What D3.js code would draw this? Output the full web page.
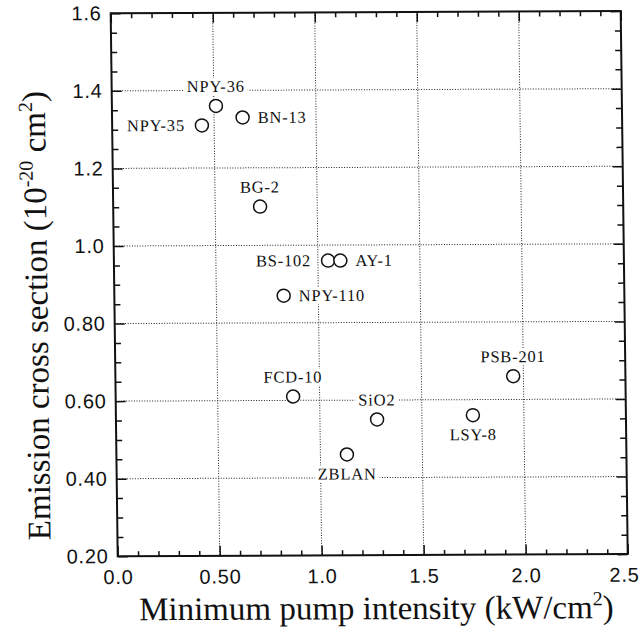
<!doctype html>
<html>
<head>
<meta charset="utf-8"/>
<title>Emission cross section vs minimum pump intensity</title>
<script src="https://d3js.org/d3.v7.min.js"></script>
<style>
 body { margin:0; background:#fff; }
 .tick text { font-family:"Liberation Sans", Arial, sans-serif; font-size:20px; letter-spacing:0.8px; fill:#111; }
 .serif { font-family:"Liberation Serif", "Times New Roman", serif; fill:#111; }
</style>
</head>
<body>
<script>
// values
var glasses = ["NPY-35","NPY-36","BN-13","BG-2","BS-102","AY-1","NPY-110","FCD-10","SiO2","ZBLAN","LSY-8","PSB-201"];
var pumpIntensity = [0.44, 0.51, 0.64, 0.72, 1.05, 1.11, 0.83, 0.87, 1.28, 1.13, 1.75, 1.95];
var crossSection  = [1.31, 1.36, 1.33, 1.10, 0.96, 0.96, 0.87, 0.61, 0.55, 0.46, 0.56, 0.66];
var labelSide = ["left","top","right","top","left","right","right","top","top","bottom","bottom","top"];

var xTicks = [0, 0.5, 1.0, 1.5, 2.0, 2.5];
var xTickLabels = ["0.0","0.50","1.0","1.5","2.0","2.5"];
var yTicks = [0.2, 0.4, 0.6, 0.8, 1.0, 1.2, 1.4, 1.6];
var yTickLabels = ["0.20","0.40","0.60","0.80","1.0","1.2","1.4","1.6"];

var W = 510, H = 543;

var svg = d3.select("body").append("svg")
    .attr("width", 642)
    .attr("height", 628)
    .style("background", "#fff");

// the printed figure sits a little askew on the page
var g = svg.append("g")
    .attr("transform", "matrix(1,-0.0043,0.0129,1,110.7,13.3)");

var x = d3.scaleLinear().domain([0, 2.5]).range([0, W]);
var y = d3.scaleLinear().domain([0.2, 1.6]).range([H, 0]);

var xMinor = d3.range(0, 26).filter(function(i){ return i % 5 != 0; }).map(function(i){ return i / 10; });
var yMinor = d3.range(0, 29).filter(function(i){ return i % 4 != 0; }).map(function(i){ return 0.2 + i * 0.05; });

// dotted grid
var grid = g.append("g")
    .attr("stroke", "#222")
    .attr("stroke-width", 1)
    .attr("stroke-dasharray", "1,1.6");
grid.selectAll(".gx").data(xTicks.slice(1, -1)).enter().append("line")
    .attr("x1", function(d){ return x(d); }).attr("x2", function(d){ return x(d); })
    .attr("y1", 0).attr("y2", H);
grid.selectAll(".gy").data(yTicks.slice(1, -1)).enter().append("line")
    .attr("y1", function(d){ return y(d); }).attr("y2", function(d){ return y(d); })
    .attr("x1", 0).attr("x2", W);

// ticks, all pointing inward
function axisLayer(axis, tx, ty) {
  var a = g.append("g").attr("transform", "translate(" + tx + "," + ty + ")").call(axis);
  a.select(".domain").remove();
  a.selectAll(".tick line").attr("stroke", "#111").attr("stroke-width", 1.5);
  return a;
}
var bottom = axisLayer(d3.axisBottom(x).tickValues(xTicks).tickSize(-10).tickPadding(13.5)
    .tickFormat(function(d, i){ return xTickLabels[i]; }), 0, H);
// last label sits right at the page edge
bottom.selectAll(".tick text").filter(function(d){ return d == 2.5; }).attr("dx", -4);
axisLayer(d3.axisBottom(x).tickValues(xMinor).tickSize(-5).tickFormat(""), 0, H);
axisLayer(d3.axisTop(x).tickValues(xTicks).tickSize(-10).tickFormat(""), 0, 0);
axisLayer(d3.axisTop(x).tickValues(xMinor).tickSize(-5).tickFormat(""), 0, 0);
axisLayer(d3.axisLeft(y).tickValues(yTicks).tickSize(-10).tickPadding(9)
    .tickFormat(function(d, i){ return yTickLabels[i]; }), 0, 0);
axisLayer(d3.axisLeft(y).tickValues(yMinor).tickSize(-6).tickFormat(""), 0, 0);
axisLayer(d3.axisRight(y).tickValues(yTicks).tickSize(-10).tickFormat(""), W, 0);
axisLayer(d3.axisRight(y).tickValues(yMinor).tickSize(-6).tickFormat(""), W, 0);

g.append("rect")
    .attr("width", W).attr("height", H)
    .attr("fill", "none").attr("stroke", "#111").attr("stroke-width", 2);

// point labels with a white patch that breaks the grid
var lg = g.append("g");
glasses.forEach(function(name, i) {
  var px = x(pumpIntensity[i]), py = y(crossSection[i]);
  var side = labelSide[i];
  var t = lg.append("text").attr("class", "serif")
      .style("font-size", "16.5px").style("letter-spacing", "0.8px")
      .text(name);
  if (side == "top") {
    t.attr("x", px).attr("y", py - 14).attr("text-anchor", "middle");
  } else if (side == "bottom") {
    t.attr("x", px).attr("y", py + 25).attr("text-anchor", "middle");
  } else if (side == "left") {
    t.attr("x", px - 17).attr("y", py + 5.5).attr("text-anchor", "end");
  } else {
    t.attr("x", px + 15).attr("y", py + 5.5).attr("text-anchor", "start");
  }
  var b = t.node().getBBox();
  lg.insert("rect", function(){ return t.node(); })
      .attr("x", b.x - 3).attr("y", b.y + 1)
      .attr("width", b.width + 6).attr("height", b.height - 2)
      .attr("fill", "#fff");
});

g.append("g").selectAll("circle")
    .data(glasses).enter().append("circle")
    .attr("cx", function(d, i){ return x(pumpIntensity[i]); })
    .attr("cy", function(d, i){ return y(crossSection[i]); })
    .attr("r", 6.5)
    .attr("fill", "#fff")
    .attr("stroke", "#111")
    .attr("stroke-width", 1.5);

// axis titles
var xt = g.append("text").attr("class", "serif")
    .attr("x", W / 2 + 3).attr("y", H + 64)
    .attr("text-anchor", "middle")
    .style("font-size", "33px");
xt.append("tspan").text("Minimum pump intensity (kW/cm");
xt.append("tspan").attr("dy", -13).style("font-size", "20px").text("2");
xt.append("tspan").attr("dy", 13).text(")");

var yt = g.append("text").attr("class", "serif")
    .attr("transform", "translate(-67," + 302 + ") rotate(-90)")
    .attr("text-anchor", "middle")
    .style("font-size", "33px");
yt.append("tspan").text("Emission cross section (10");
yt.append("tspan").attr("dy", -13).style("font-size", "20px").text("-20");
yt.append("tspan").attr("dy", 13).text(" cm");
yt.append("tspan").attr("dy", -13).style("font-size", "20px").text("2");
yt.append("tspan").attr("dy", 13).text(")");
</script>
</body>
</html>
